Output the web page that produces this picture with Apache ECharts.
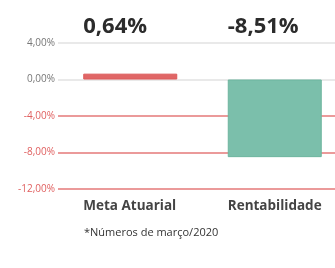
<!DOCTYPE html>
<html><head><meta charset="utf-8">
<script src="https://cdn.jsdelivr.net/npm/echarts@6/dist/echarts.min.js"></script>
<style>html,body{margin:0;padding:0;background:#fff}#c{width:335px;height:268px}</style>
</head><body><div id="c"></div>
<script>
var categories = ['Meta Atuarial', 'Rentabilidade'];
var values = [0.64, -8.51];
var valueLabels = ['0,64%', '-8,51%'];
var barColors = ['#e06666', '#7bbfab'];
var barBorders = ['#dd5a5a', '#6db59f'];
var yTicks = [-12, -8, -4, 0, 4];
var footnote = '*Números de março/2020';

var fmt = function (v) { return v.toFixed(2).replace('.', ',') + '%'; };
var boxed = function (v) { return '{a|' + v + '}'; };
var chart = echarts.init(document.getElementById('c'));
chart.setOption({
  animation: false,
  grid: { left: 58, right: -12, top: 43, bottom: 79, outerBoundsMode: 'none', containLabel: false },
  xAxis: [{
    type: 'category', data: categories, position: 'bottom',
    axisLine: { show: false, onZero: false }, axisTick: { show: false },
    axisLabel: { margin: 10, formatter: boxed,
      rich: { a: { width: 94, align: 'left', fontFamily: 'Open Sans', fontWeight: 'bold', fontSize: 13.5, color: '#444' } } }
  }, {
    type: 'category', data: valueLabels, position: 'top',
    axisLine: { show: false }, axisTick: { show: false },
    axisLabel: { margin: 5, formatter: boxed,
      rich: { a: { width: 94, align: 'left', fontFamily: 'Open Sans', fontWeight: 'bold', fontSize: 22, color: '#2b2b2b' } } }
  }],
  yAxis: {
    type: 'value', min: yTicks[0], max: yTicks[yTicks.length - 1], interval: 4,
    axisLine: { show: false }, axisTick: { show: false },
    axisLabel: {
      margin: 3, fontFamily: 'Open Sans', fontSize: 10,
      formatter: fmt,
      color: function (v) { return Number(v) < 0 ? '#e06060' : '#777'; }
    },
    splitLine: { lineStyle: { width: 1.5, color: yTicks.map(function (t) { return t < 0 ? '#e57878' : '#e2e2e2'; }) } }
  },
  series: [{
    type: 'bar', xAxisIndex: 0, barWidth: 94,
    data: values.map(function (v, i) {
      return { value: v, itemStyle: { color: barColors[i], borderColor: barBorders[i], borderWidth: 1 } };
    })
  }],
  graphic: [{
    type: 'text', left: 84, top: 227,
    style: { text: footnote, fontFamily: 'Open Sans', fontSize: 11, fill: '#333' }
  }]
});
</script></body></html>
